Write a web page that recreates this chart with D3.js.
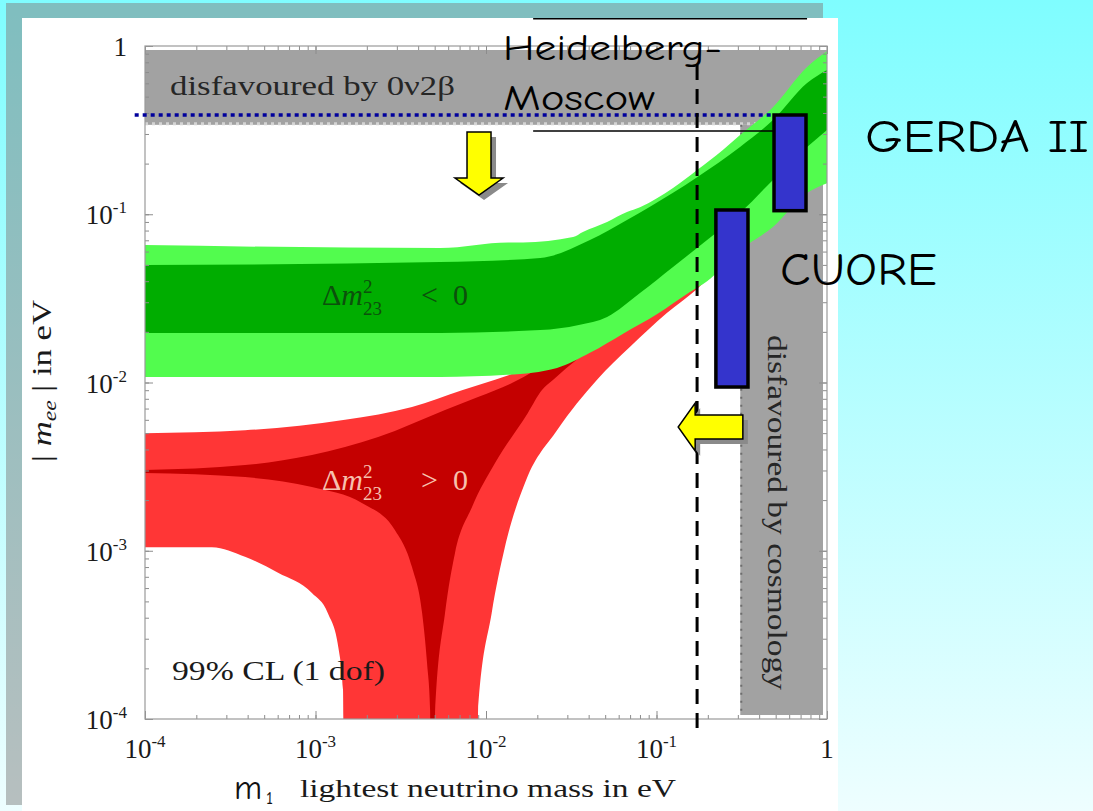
<!DOCTYPE html>
<html>
<head>
<meta charset="utf-8">
<script src="https://cdn.jsdelivr.net/npm/d3@7"></script>
<style>
  body { margin: 0; overflow: hidden; background: #fff; }
  svg { display: block; }
</style>
</head>
<body>
<svg id="chart" width="1093" height="811"></svg>
<script>
// ---------- data (m1 in eV, |m_ee| in eV) ----------
const xTickVals = [1e-4, 1e-3, 1e-2, 1e-1, 1];
const xTickBase = ["10", "10", "10", "10", "1"];
const xTickExp  = ["-4", "-3", "-2", "-1", ""];
const yTickVals = [1e-4, 1e-3, 1e-2, 1e-1, 1];
const yTickBase = ["10", "10", "10", "10", "1"];
const yTickExp  = ["-4", "-3", "-2", "-1", ""];

// inverted hierarchy (Δm²23 < 0): 99% CL band and inner band
const ihOuterUpper = [[1e-4,0.0656],[5.4e-3,0.063],[1.35e-2,0.068],[1.65e-2,0.068],[3.24e-2,0.0732],[3.7e-2,0.0785],[5.13e-2,0.090],[6.71e-2,0.103],[8.0e-2,0.110],[0.125,0.143],[0.173,0.183],[0.245,0.241],[0.309,0.296],[0.482,0.433],[0.764,0.75],[1,0.93]];
const ihOuterLower = [[1e-4,0.0108],[5.4e-3,0.0108],[1.33e-2,0.0111],[2.61e-2,0.0122],[4.07e-2,0.0150],[6.37e-2,0.0195],[0.101,0.0255],[0.157,0.0345],[0.198,0.0400],[0.309,0.0613],[0.482,0.0840],[0.764,0.134],[1,0.153]];
const ihInnerUpper = [[1e-4,0.0499],[5.37e-3,0.0520],[2.08e-2,0.0550],[4.07e-2,0.0703],[6.71e-2,0.0924],[0.125,0.134],[0.173,0.166],[0.309,0.251],[0.482,0.363],[0.764,0.603],[1,0.72]];
const ihInnerLower = [[1e-4,0.0197],[5.4e-3,0.0197],[2.08e-2,0.0205],[3.5e-2,0.022],[5.13e-2,0.0245],[0.08,0.034],[0.125,0.0486],[0.198,0.0703],[0.309,0.1017],[0.482,0.160],[0.764,0.251],[1,0.317]];

// normal hierarchy (Δm²23 > 0): 99% CL band and inner band (1e-6 = cancellation to zero)
const nhOuterUpper = [[1e-4,5.0e-3],[3.86e-4,5.2e-3],[1.49e-3,6.0e-3],[3.68e-3,7.15e-3],[7.23e-3,9.0e-3],[1.13e-2,1.04e-2],[2.1e-2,1.3e-2],[4.7e-2,2.0e-2],[0.1,0.04],[0.3,0.12],[1,0.4]];
const nhOuterLower = [[1e-4,1.05e-3],[2.47e-4,1.05e-3],[3.86e-4,9.2e-4],[6.03e-4,7.4e-4],[9.53e-4,5.6e-4],[1.18e-3,4.27e-4],[1.36e-3,2.68e-4],[1.45e-3,1.49e-4],[1.49e-3,1e-6],[8.9e-3,1e-6],[8.98e-3,1.1e-4],[1.08e-2,4.27e-4],[1.29e-2,1.05e-3],[1.72e-2,2.63e-3],[2.61e-2,5.2e-3],[4.48e-2,1.04e-2],[7.0e-2,1.63e-2],[0.115,2.59e-2],[0.173,3.6e-2],[0.309,0.066],[0.482,0.092],[0.764,0.145],[1,0.165]];
const nhInnerUpper = [[1e-4,3.02e-3],[3.86e-4,3.23e-3],[9.53e-4,3.71e-3],[2.33e-3,4.74e-3],[5.75e-3,6.87e-3],[8.98e-3,8.2e-3],[1.42e-2,9.93e-3],[2.61e-2,1.4e-2],[5e-2,1.9e-2],[0.1,0.036],[0.3,0.1],[1,0.3]];
const nhInnerLower = [[1e-4,2.9e-3],[3.86e-4,2.74e-3],[9.53e-4,2.39e-3],[1.87e-3,1.92e-3],[2.92e-3,1.33e-3],[3.68e-3,8.0e-4],[4.22e-3,4.27e-4],[4.51e-3,2.15e-4],[4.70e-3,1.13e-4],[4.8e-3,1e-6],[4.95e-3,1e-6],[5.03e-3,1.13e-4],[5.75e-3,4.27e-4],[6.58e-3,9.7e-4],[8.28e-3,1.82e-3],[1.13e-2,3.32e-3],[1.76e-2,6.59e-3],[2.13e-2,9.02e-3],[2.47e-2,1.035e-2],[3.56e-2,1.42e-2],[5e-2,1.8e-2],[0.1,0.03],[0.3,0.07],[1,0.17]];

// excluded regions
const betaBetaLimit = 0.34;   // |m_ee| above this: disfavoured by 0ν2β
const cosmoLimit = 0.31;      // m1 above this: disfavoured by cosmology

// experiments
const hmClaim = 0.389;                          // Heidelberg-Moscow dotted level
const hmBox = { m1From: 0.0189, m1To: 0.764, upper: 1.45, lower: 0.312 };
const gerda = { m1: [0.489, 0.753], mee: [0.105, 0.389] };
const cuore = { m1: [0.223, 0.344], mee: [0.0094, 0.106] };
const m1Limit = { m1: 0.173, from: 0.77, to: 8.0e-5 };   // dashed vertical line
const downArrow = { m1: 9.1e-3, from: 0.308, to: 0.130 };
const leftArrow = { mee: 5.44e-3, from: 0.321, to: 0.134 };

// ---------- layout ----------
const plot = { left: 145, right: 827, top: 46, bottom: 719 };
const serif = "'Liberation Serif','DejaVu Serif',serif";
const hand = "'Comic Sans MS','Comic Neue','DejaVu Sans',sans-serif";

const svg = d3.select("#chart");
const defs = svg.append("defs");
const grad = defs.append("linearGradient").attr("id", "bg").attr("x1", 0).attr("y1", 0).attr("x2", 0).attr("y2", 1);
grad.append("stop").attr("offset", 0).attr("stop-color", "#7ffdff");
grad.append("stop").attr("offset", 1).attr("stop-color", "#eefeff");
defs.append("clipPath").attr("id", "plotClip").append("rect")
  .attr("x", plot.left).attr("y", plot.top)
  .attr("width", plot.right - plot.left).attr("height", plot.bottom - plot.top);

svg.append("rect").attr("width", 1093).attr("height", 811).attr("fill", "url(#bg)");
svg.append("rect").attr("x", 6).attr("y", 3).attr("width", 817).attr("height", 802).attr("fill", "rgba(128,128,128,0.5)");
svg.append("rect").attr("x", 22).attr("y", 18).attr("width", 816).attr("height", 793).attr("fill", "#fff");

const x = d3.scaleLog().domain([1e-4, 1]).range([plot.left, plot.right]);
const y = d3.scaleLog().domain([1e-4, 1]).range([plot.bottom, plot.top]);

const plotG = svg.append("g").attr("clip-path", "url(#plotClip)");

// grey excluded regions
plotG.append("rect").attr("x", plot.left).attr("y", plot.top + 4)
  .attr("width", plot.right - plot.left).attr("height", y(betaBetaLimit) - plot.top - 4)
  .attr("fill", "#a2a2a2");
plotG.append("rect").attr("x", x(cosmoLimit)).attr("y", y(betaBetaLimit))
  .attr("width", plot.right - 4 - x(cosmoLimit)).attr("height", plot.bottom - 4 - y(betaBetaLimit))
  .attr("fill", "#a2a2a2");
plotG.append("line").attr("x1", plot.left).attr("x2", plot.right)
  .attr("y1", y(betaBetaLimit) - 1).attr("y2", y(betaBetaLimit) - 1)
  .attr("stroke", "#d4d4d4").attr("stroke-width", 3).attr("stroke-dasharray", "3,4");
plotG.append("line").attr("x1", x(cosmoLimit) + 1).attr("x2", x(cosmoLimit) + 1)
  .attr("y1", y(betaBetaLimit)).attr("y2", plot.bottom - 4)
  .attr("stroke", "#6e6e6e").attr("stroke-width", 2).attr("stroke-dasharray", "2,6");

// bands
const lineGen = d3.line().x(d => x(d[0])).y(d => y(d[1])).curve(d3.curveMonotoneX);
function bandPath(upper, lower) {
  const a = lineGen(upper);
  const b = lineGen(lower.slice().reverse()).replace(/^M/, "L");
  return a + b + "Z";
}
plotG.append("path").attr("d", bandPath(nhOuterUpper, nhOuterLower)).attr("fill", "#ff3636");
plotG.append("path").attr("d", bandPath(nhInnerUpper, nhInnerLower)).attr("fill", "#c40000");
plotG.append("path").attr("d", bandPath(ihOuterUpper, ihOuterLower)).attr("fill", "#52fc4e");
plotG.append("path").attr("d", bandPath(ihInnerUpper, ihInnerLower)).attr("fill", "#00ad00");

// frame and ticks (inward)
const minorVals = [];
for (let d = -4; d <= -1; d++) for (let k = 1; k <= 9; k++) minorVals.push(k * Math.pow(10, d));
minorVals.push(1);
function styleAxis(g) {
  g.select(".domain").remove();
  g.selectAll(".tick line").attr("stroke", "#8c8c8c").attr("stroke-width", 1);
  g.selectAll(".tick text").remove();
}
const axes = [
  [d3.axisBottom(x), `translate(0,${plot.bottom})`],
  [d3.axisTop(x), `translate(0,${plot.top})`],
  [d3.axisLeft(y), `translate(${plot.left},0)`],
  [d3.axisRight(y), `translate(${plot.right},0)`]
];
axes.forEach(([ax, tr]) => {
  svg.append("g").attr("transform", tr).call(ax.tickValues(minorVals).tickSize(-4).tickFormat("")).call(styleAxis);
  svg.append("g").attr("transform", tr).call(ax.tickValues(xTickVals).tickSize(-8).tickFormat("")).call(styleAxis);
});
svg.append("rect").attr("x", plot.left).attr("y", plot.top)
  .attr("width", plot.right - plot.left).attr("height", plot.bottom - plot.top)
  .attr("fill", "none").attr("stroke", "#9a9a9a").attr("stroke-width", 1.2);

// tick labels
function tickLabel(base, exp, px, py, anchor) {
  const t = svg.append("text").attr("x", px).attr("y", py).attr("text-anchor", anchor)
    .attr("font-family", serif).attr("font-size", 27).attr("fill", "#1a1a1a");
  t.append("tspan").text(base);
  if (exp) t.append("tspan").attr("font-size", 17).attr("dy", -11).text(exp);
}
xTickVals.forEach((v, i) => tickLabel(xTickBase[i], xTickExp[i], x(v), 758, "middle"));
yTickVals.forEach((v, i) => tickLabel(yTickBase[i], yTickExp[i], 127, y(v) + 10, "end"));

// axis titles
const yt = svg.append("text").attr("transform", "translate(51,381) rotate(-90)")
  .attr("text-anchor", "middle").attr("font-family", serif).attr("font-size", 28).attr("fill", "#1a1a1a")
  .attr("textLength", 162).attr("lengthAdjust", "spacingAndGlyphs");
yt.append("tspan").text("| ");
yt.append("tspan").attr("font-style", "italic").text("m");
yt.append("tspan").attr("font-style", "italic").attr("font-size", 19).attr("dy", 5).text("ee");
yt.append("tspan").attr("dy", -5).text(" | in eV");

svg.append("text").attr("x", 234).attr("y", 799).attr("font-family", hand).attr("font-size", 34).attr("fill", "#111").text("m");
svg.append("text").attr("x", 266).attr("y", 804).attr("font-family", hand).attr("font-size", 18).attr("fill", "#111").text("1");
svg.append("text").attr("x", 300).attr("y", 797).attr("font-family", serif).attr("font-size", 26).attr("fill", "#1a1a1a")
  .attr("textLength", 376).attr("lengthAdjust", "spacingAndGlyphs").text("lightest neutrino mass in eV");

// region labels
svg.append("text").attr("x", 170).attr("y", 95).attr("font-family", serif).attr("font-size", 28).attr("fill", "#262626")
  .attr("textLength", 285).attr("lengthAdjust", "spacingAndGlyphs").text("disfavoured by 0ν2β");
svg.append("text").attr("transform", "translate(768,335) rotate(90)").attr("font-family", serif).attr("font-size", 28)
  .attr("fill", "#262626").attr("textLength", 355).attr("lengthAdjust", "spacingAndGlyphs").text("disfavoured by cosmology");
svg.append("text").attr("x", 172).attr("y", 680).attr("font-family", serif).attr("font-size", 27).attr("fill", "#1a1a1a")
  .attr("textLength", 213).attr("lengthAdjust", "spacingAndGlyphs").text("99% CL (1 dof)");

function dmLabel(px, py, rel, color) {
  const t = svg.append("text").attr("font-family", serif).attr("font-size", 30).attr("fill", color);
  t.append("tspan").attr("x", px).attr("y", py).text("Δ");
  t.append("tspan").attr("font-style", "italic").text("m");
  t.append("tspan").attr("x", px + 41).attr("y", py - 12).attr("font-size", 19).text("2");
  t.append("tspan").attr("x", px + 41).attr("y", py + 10).attr("font-size", 19).text("23");
  t.append("tspan").attr("x", px + 99).attr("y", py).text(rel);
  t.append("tspan").attr("x", px + 131).attr("y", py).text("0");
}
dmLabel(322, 305, "<", "#0c500c");
dmLabel(322, 490, ">", "#f7c0ae");

// Heidelberg-Moscow claim
svg.append("line").attr("x1", x(8.7e-5)).attr("x2", x(gerda.m1[0]))
  .attr("y1", y(hmClaim)).attr("y2", y(hmClaim))
  .attr("stroke", "#00009c").attr("stroke-width", 3.5).attr("stroke-dasharray", "4,4");
svg.append("line").attr("x1", x(hmBox.m1From)).attr("x2", x(hmBox.m1To))
  .attr("y1", y(hmBox.upper)).attr("y2", y(hmBox.upper)).attr("stroke", "#000").attr("stroke-width", 1.5);
svg.append("line").attr("x1", x(hmBox.m1From)).attr("x2", x(gerda.m1[0]))
  .attr("y1", y(hmBox.lower)).attr("y2", y(hmBox.lower)).attr("stroke", "#000").attr("stroke-width", 1.5);

// dashed m1 limit
svg.append("line").attr("x1", x(m1Limit.m1)).attr("x2", x(m1Limit.m1))
  .attr("y1", y(m1Limit.from)).attr("y2", y(m1Limit.to))
  .attr("stroke", "#000").attr("stroke-width", 3).attr("stroke-dasharray", "15,9");

// sensitivity bars
[gerda, cuore].forEach(b => {
  svg.append("rect").attr("x", x(b.m1[0])).attr("y", y(b.mee[1]))
    .attr("width", x(b.m1[1]) - x(b.m1[0])).attr("height", y(b.mee[0]) - y(b.mee[1]))
    .attr("fill", "#3434cc").attr("stroke", "#000").attr("stroke-width", 3.5);
});

// arrows
function downPath(cx, y0, y1) {
  const hy = y1 - 17;
  return `M${cx-12},${y0}L${cx+12},${y0}L${cx+12},${hy}L${cx+24},${hy}L${cx},${y1}L${cx-24},${hy}L${cx-12},${hy}Z`;
}
function leftPath(cy, x0, x1) {
  const hx = x1 + 17;
  return `M${x0},${cy-12}L${x0},${cy+12}L${hx},${cy+12}L${hx},${cy+24}L${x1},${cy}L${hx},${cy-24}L${hx},${cy-12}Z`;
}
const dp = downPath(x(downArrow.m1), y(downArrow.from), y(downArrow.to));
const lp = leftPath(y(leftArrow.mee), x(leftArrow.from), x(leftArrow.to));
[dp, lp].forEach(p => {
  svg.append("path").attr("d", p).attr("transform", "translate(5,5)").attr("fill", "#8a8a8a");
  svg.append("path").attr("d", p).attr("fill", "#ffff00").attr("stroke", "#000").attr("stroke-width", 1.5);
});

// experiment names
svg.append("text").attr("x", 503).attr("y", 60).attr("font-family", hand).attr("font-size", 37).attr("fill", "#000")
  .attr("textLength", 219).attr("lengthAdjust", "spacingAndGlyphs").text("Heidelberg-");
svg.append("text").attr("x", 503).attr("y", 110).attr("font-family", hand).attr("font-size", 37).attr("fill", "#000")
  .attr("textLength", 152).attr("lengthAdjust", "spacingAndGlyphs").text("Moscow");
svg.append("text").attr("x", 865).attr("y", 152).attr("font-family", hand).attr("font-size", 46).attr("fill", "#000")
  .attr("textLength", 224).attr("lengthAdjust", "spacingAndGlyphs").text("GERDA II");
svg.append("text").attr("x", 780).attr("y", 285).attr("font-family", hand).attr("font-size", 46).attr("fill", "#000")
  .attr("textLength", 157).attr("lengthAdjust", "spacingAndGlyphs").text("CUORE");
</script>
</body>
</html>
